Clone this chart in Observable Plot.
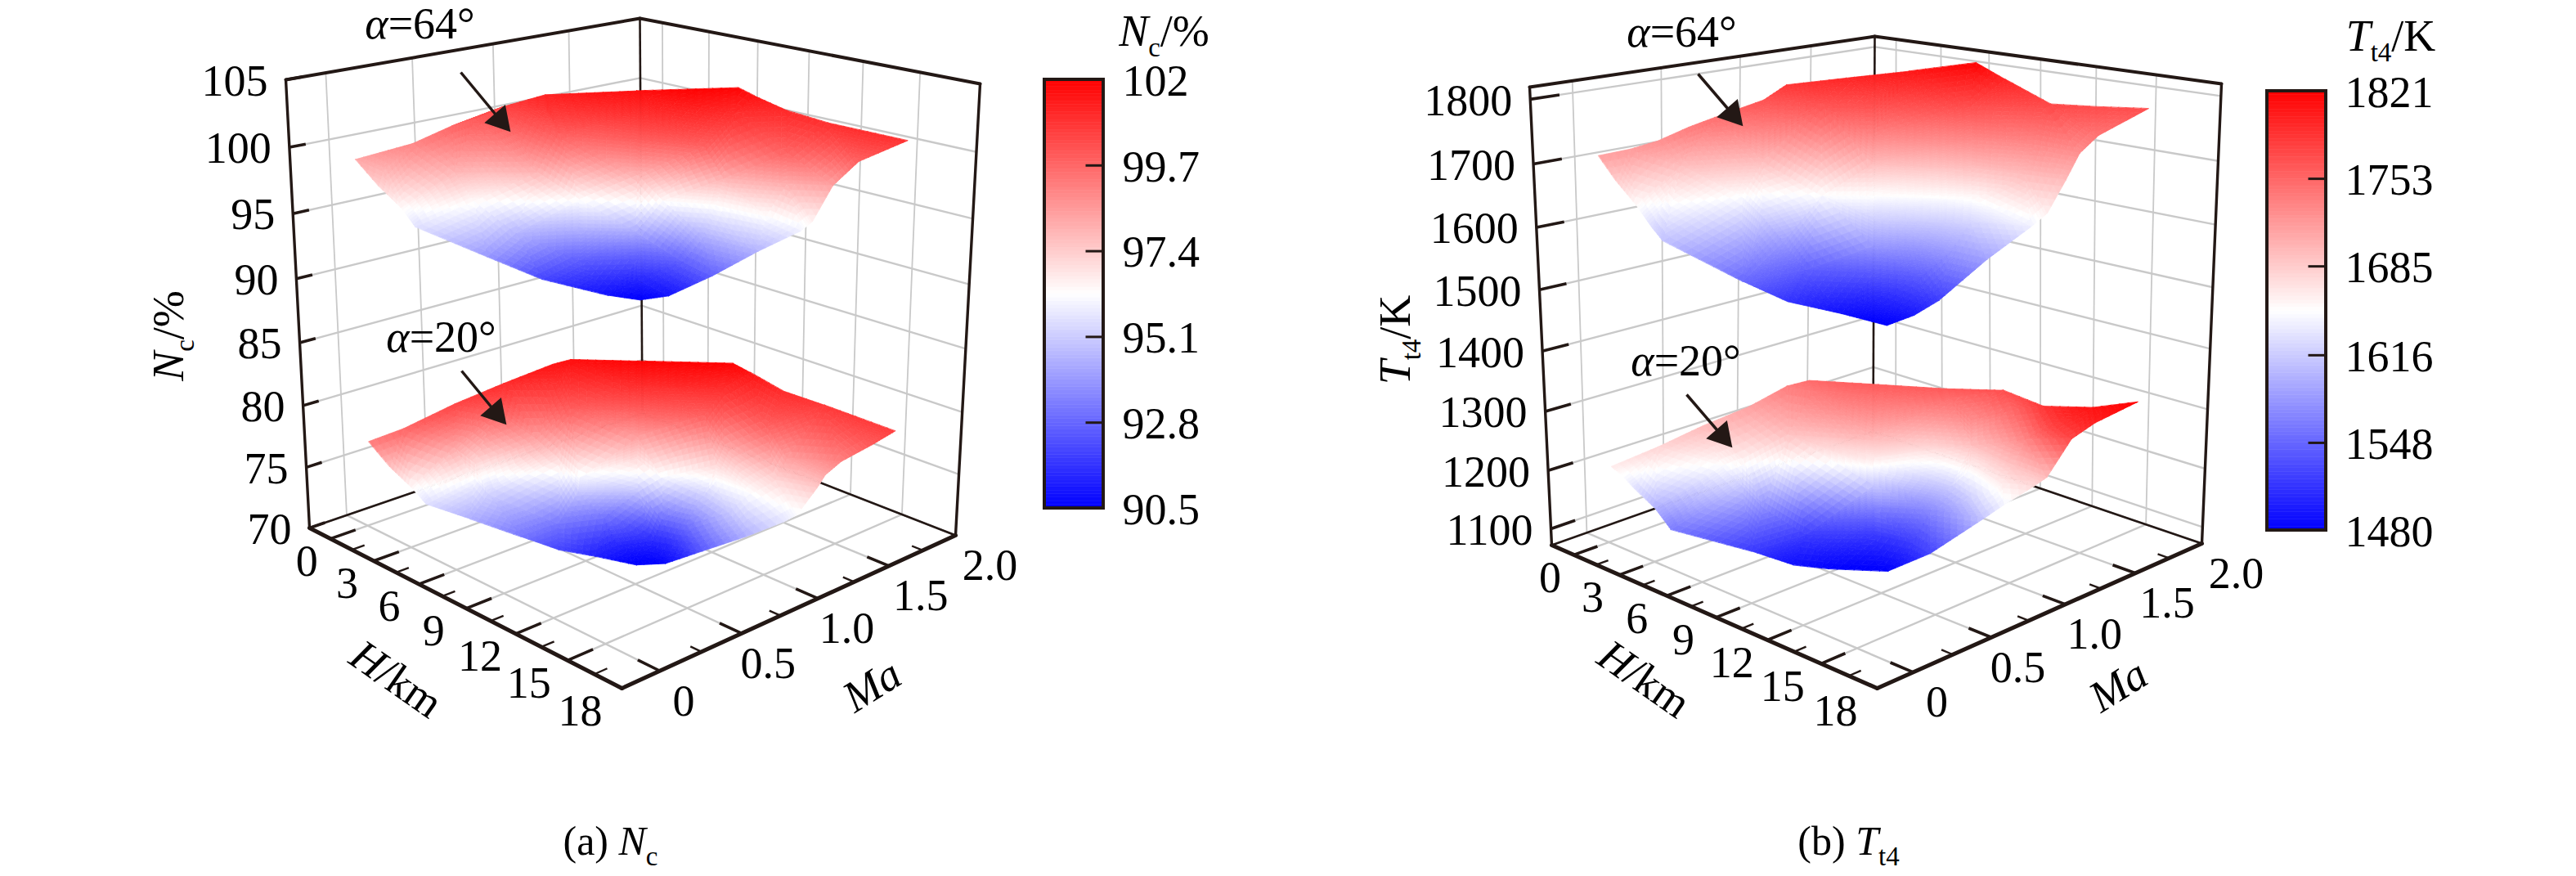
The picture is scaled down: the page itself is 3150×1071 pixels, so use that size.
<!DOCTYPE html>
<html><head><meta charset="utf-8">
<script src="https://cdn.jsdelivr.net/npm/d3@7"></script>
<script src="https://cdn.jsdelivr.net/npm/@observablehq/plot@0.6"></script>
<style>html,body{margin:0;padding:0;background:#fff;overflow:hidden}#wrap{display:flex;width:3150px;height:1071px}svg{display:block}</style>
</head><body><div id="wrap"></div>
<script>
// Axis ticks
const hTicks=[0,3,6,9,12,15,18], maTicks=[0,0.5,1,1.5,2];
const ncTicks=[70,75,80,85,90,95,100,105], t4Ticks=[1100,1200,1300,1400,1500,1600,1700,1800];
const ncBarTicks=[102,99.7,97.4,95.1,92.8,90.5], t4BarTicks=[1821,1753,1685,1616,1548,1480];
// Surface readings: outline as [H, Ma, value]; inner iso-value rows as [value, [[H, Ma], ...]]
const nc64Outline=[[-1.3,.13,98.2],[-.4,.39,99],[-.5,.64,99.7],[-.3,.94,100.5],[.3,1.16,101.1],[3.4,1.45,101.6],[6.7,1.78,102],[7.4,1.81,101.5],[9.5,1.79,101],[12,1.76,100.9],[16.2,1.76,100.9],[15.8,1.48,100],[15.1,1.4,98.2],[15.8,1.18,96.5],[15.6,1.13,95.9],[14.7,.97,94.6],[13.5,.82,92.8],[11.8,.74,90.9],[10.9,.66,90.5],[10.1,.55,90.9],[8.2,.35,92],[7.2,.13,94],[4.4,-.02,95.6],[2.8,.04,96.25],[1.1,.06,97.2]];
const nc64Rows=[[101,[[1.9,1],[5.3,1.25],[8.2,1.59]]],[100,[[-.3,.76],[4.1,.87],[7.2,1.05],[9.9,1.18],[13,1.36]]],[98,[[.8,.11],[2.8,.35],[5.1,.63],[8.3,.93],[11.1,1.17],[13.4,1.31]]],[96.25,[[4,.35],[6.8,.72],[9.3,.98],[11.2,1.11],[13.7,1.14]]],[94.5,[[6.2,.39],[7.7,.63],[9.4,.8],[11.8,.96]]],[92.5,[[8,.59],[9.5,.8],[11,.92]]],[91.3,[[9.8,.76]]]];
const nc20Outline=[[1.7,-.11,99.3],[2.1,.06,99.8],[2,.38,100.4],[2.2,.67,101],[2.4,.97,101.5],[2.6,1.07,101.6],[5.1,1.26,101.9],[8.3,1.57,102],[9.1,1.6,101.5],[11.1,1.59,101],[13.2,1.63,100.7],[17.1,1.63,100.6],[16.9,1.49,100],[16.5,1.33,99.2],[16.2,1.26,98.3],[16,1.23,97.3],[16.3,1.06,96.2],[15.9,1.02,95.6],[14.9,.89,94.5],[13.2,.8,92.8],[11.2,.78,90.7],[10.3,.69,90.5],[9.2,.54,91.3],[8.4,.39,92.1],[7.5,.25,93.3],[5.9,.1,94.5],[4.6,-.04,95.6],[3.4,-.02,96.2],[2.6,-.07,97.6]];
const nc20Rows=[[101,[[3.8,.86],[6.3,1.13],[9.1,1.42]]],[100,[[3.4,.5],[5.3,.79],[7.4,1.01],[9.8,1.2],[12.6,1.3]]],[98.4,[[3.6,.22],[5.3,.57],[8,.95],[11.2,1.18],[14,1.27]]],[97,[[4.1,.3],[6.1,.63],[8.4,.9],[11.2,1.12],[14,1.19]]],[96.25,[[4.6,.25],[7.5,.62],[9.9,.9],[11.7,1.06],[13.6,1.07]]],[95,[[4.9,.3],[7.3,.63],[9.1,.83],[11.3,1.02],[13.2,.97]]],[93,[[7.3,.5],[8.2,.7],[10,.89],[11.1,.93]]],[91.2,[[9,.7],[9.7,.86],[10.6,.9]]]];
const t464Outline=[[.5,-.02,1714],[.8,.13,1718],[1,.27,1725],[1,.45,1738],[1.2,.59,1748],[1.5,.87,1765],[1.7,1,1785],[3.5,1.22,1795],[5.4,1.45,1805],[7.8,1.65,1821],[8.8,1.74,1795],[12,1.63,1775],[13.3,1.79,1770],[15.1,1.92,1770],[14.9,1.55,1745],[14.9,1.41,1725],[15.3,1.25,1695],[15.8,1.05,1660],[15.4,1,1640],[14.2,.88,1590],[12.5,.79,1520],[11.7,.73,1495],[11,.64,1480],[9.2,.56,1490],[8.1,.35,1515],[7.1,.19,1550],[4.7,-.03,1610],[3.9,-.02,1625],[2.7,0,1650],[1.9,-.04,1685]];
const t464Rows=[[1770,[[4.3,.96],[6.1,1.11],[9.5,1.38],[11.9,1.59]]],[1730,[[3.5,.67],[7.3,.98],[10.6,1.24],[13,1.36]]],[1695,[[2.5,.27],[4.3,.59],[7.9,.9],[11.3,1.15],[13.6,1.21]]],[1650,[[4.6,.43],[6.8,.7],[8.3,.87],[11.6,1.12]]],[1620,[[5.2,.49],[8.8,.81],[12,1.06]]],[1585,[[6.3,.51],[9.3,.75],[12.1,.92]]],[1540,[[6.9,.58],[9.2,.76],[11,.86]]],[1500,[[9.4,.74]]]];
const t420Outline=[[3.7,-.29,1665],[4.1,-.05,1680],[4.3,.2,1695],[4.7,.45,1710],[5.3,.63,1735],[6,.7,1745],[9.3,.79,1760],[11.9,.93,1765],[13.9,1.06,1770],[17,.91,1785],[19.1,.94,1800],[20.8,.98,1821],[20.2,.79,1800],[19.6,.73,1775],[17.9,.83,1690],[17.3,.83,1670],[16.9,.69,1650],[16,.68,1620],[13.1,.69,1530],[11,.66,1480],[9.3,.46,1485],[8.2,.35,1490],[7.3,.18,1520],[5.2,-.1,1560],[5,-.17,1600],[4.1,-.2,1625],[3.9,-.25,1650]];
const t420Rows=[[1790,[[18.9,.71]]],[1810,[[20.2,.79]]],[1745,[[7.1,.61],[9.3,.75],[11.8,.97],[14.5,1.05]]],[1730,[[10,.68],[13.4,.91],[16.4,.88]]],[1695,[[7.5,.4],[10.4,.62],[13.7,.88],[16.3,.82]]],[1665,[[6.7,.2],[10.5,.62],[13.7,.88],[16,.79]]],[1650,[[6,.14],[10.5,.61],[13.5,.88],[15.5,.81]]],[1615,[[6.4,.22],[10.2,.65],[12.5,.9],[14.1,.84]]],[1570,[[6.6,.33],[9.8,.7],[11.7,.86]]],[1515,[[7.4,.52],[9.4,.75],[11.2,.8]]]];

const ink="#231815", gridC="#c9c9c9", tickFont=54;
function squareToQuad(q){const [[x0,y0],[x1,y1],[x2,y2],[x3,y3]]=q;
 const dx1=x1-x2,dx2=x3-x2,sx=x0-x1+x2-x3,dy1=y1-y2,dy2=y3-y2,sy=y0-y1+y2-y3,det=dx1*dy2-dx2*dy1;
 const g=(sx*dy2-dx2*sy)/det,h=(dx1*sy-sx*dy1)/det;
 const a=x1-x0+g*x1,b=x3-x0+h*x3,d=y1-y0+g*y1,e=y3-y0+h*y3;
 return (u,v)=>{const w=g*u+h*v+1;return [(a*u+b*v+x0)/w,(d*u+e*v+y0)/w];};}
const Hd=[-1.5,18],Md=[-0.22,2];
const cfg=[
{x0:0,floor:[[378,645],[760,841],[1168,654],[785,505]],top:[[349,97],[752,208],[1198,102],[782,22]],zd:[70,105],zTicks:ncTicks,k:.065,dom:[90.5,102],off:[0,-21],
 surfaces:[[nc64Outline,nc64Rows],[nc20Outline,nc20Rows]],
 bar:[1277,1349,97,621],barTicks:ncBarTicks,barLx:1372,zt:.09,
 title:"Nc/%",tx:1423,ty:38,yl:"Nc/%",ylx:206,yly:410,cap:"(a) Nc",capx:746,caps:1028,hl:[484,830],ml:[1066,838],al:[[513,29,"α=64°"],[539,412,"α=20°"]],arrows:[[563,88,611,146],[564,453,606,504]]},
{x0:1575,floor:[[1897,666],[2295,841],[2692,664],[2290,527]],top:[[1870,106],[2300,210],[2716,102],[2292,44]],zd:[1071.5,1818.6],zTicks:t4Ticks,k:.068,dom:[1480,1821],off:[0,-400],
 surfaces:[[t464Outline,t464Rows],[t420Outline,t420Rows]],
 bar:[2772,2844,111,648],barTicks:t4BarTicks,barLx:2867,zt:.15,
 title:"Tt4/K",tx:2923,ty:44,yl:"Tt4/K",ylx:1706,yly:415,cap:"(b) Tt4",capx:2260,caps:1028,hl:[2010,830],ml:[2590,838],al:[[2056,39,"α=64°"],[2061,441,"α=20°"]],arrows:[[2076,90,2118,139],[2062,482,2105,532]]}];

function makeProj(c){const F=squareToQuad(c.floor),T=squareToQuad(c.top);
 return (H,M,z)=>{const u=(H-Hd[0])/(Hd[1]-Hd[0]),v=(M-Md[0])/(Md[1]-Md[0]),t=(z-c.zd[0])/(c.zd[1]-c.zd[0]),s=t/(1+c.k*(1-t));
  const a=F(u,v),b=T(u,v);return [a[0]+(b[0]-a[0])*s,a[1]+(b[1]-a[1])*s];};}
function build(ci){const c=cfg[ci],P=makeProj(c),tris=[];
 c.surfaces.forEach(([o,r],si)=>{const out=o.map(([H,Ma,v])=>({H,Ma,c:v}));
  const inn=r.flatMap(([v,pts])=>pts.map(([H,Ma])=>({H,Ma,c:v})));
  tris.push(...mesh(out,inn,c.off[si],P));});
 return tris;}
// smooth value field through the readings, used only to shade the facets between them
function smoothField(pts,vals,lam){const n=pts.length,m=n+3,sc=100,phi=r2=>r2>0?r2*Math.log(r2)/2:0;
 const q=pts.map(p=>[p[0]/sc,p[1]/sc]),A=[];
 for(let i=0;i<m;i++){A.push(new Float64Array(m+1));}
 for(let i=0;i<n;i++){for(let j=0;j<n;j++){const dx=q[i][0]-q[j][0],dy=q[i][1]-q[j][1];A[i][j]=phi(dx*dx+dy*dy)+(i===j?lam:0);}
  A[i][n]=1;A[i][n+1]=q[i][0];A[i][n+2]=q[i][1];A[n][i]=1;A[n+1][i]=q[i][0];A[n+2][i]=q[i][1];A[i][m]=vals[i];}
 for(let c=0;c<m;c++){let b=c;for(let r=c+1;r<m;r++)if(Math.abs(A[r][c])>Math.abs(A[b][c]))b=r;[A[c],A[b]]=[A[b],A[c]];
  for(let r=0;r<m;r++){if(r===c)continue;const f=A[r][c]/A[c][c];if(!f)continue;for(let k=c;k<=m;k++)A[r][k]-=f*A[c][k];}}
 const w=A.map((row,i)=>row[m]/row[i]);
 return (x,y)=>{x/=sc;y/=sc;let s=w[n]+w[n+1]*x+w[n+2]*y;for(let i=0;i<n;i++){const dx=x-q[i][0],dy=y-q[i][1];s+=w[i]*phi(dx*dx+dy*dy);}return s;};}
function mesh(out,inn,off,P){const pr=d=>P(d.H,d.Ma,d.c+off);const poly=out.map(pr);
 const keep=inn.filter(d=>d3.polygonContains(poly,pr(d)));const all=[...out,...keep],pts=all.map(pr);
 const field=smoothField(pts,all.map(d=>d.c),.25);
 const del=d3.Delaunay.from(pts),res=[],t=del.triangles;
 for(let i=0;i<t.length;i+=3){const p=[pts[t[i]],pts[t[i+1]],pts[t[i+2]]];
  const cen=[(p[0][0]+p[1][0]+p[2][0])/3,(p[0][1]+p[1][1]+p[2][1])/3];if(!d3.polygonContains(poly,cen))continue;
  const edge=Math.max(...[0,1,2].map(k=>Math.hypot(p[k][0]-p[(k+1)%3][0],p[k][1]-p[(k+1)%3][1])));
  const N=Math.min(40,Math.max(1,Math.ceil(edge/11)));
  const at=(a,b)=>{const w=N-a-b;return [(p[0][0]*a+p[1][0]*b+p[2][0]*w)/N,(p[0][1]*a+p[1][1]*b+p[2][1]*w)/N];};
  const add=(A,B,C)=>res.push({geom:{type:"Polygon",coordinates:[[A,B,C,A]]},c:field((A[0]+B[0]+C[0])/3,(A[1]+B[1]+C[1])/3)});
  for(let a=0;a<N;a++)for(let b=0;b<N-a;b++){add(at(a,b),at(a+1,b),at(a,b+1));if(a+b<N-1)add(at(a+1,b),at(a+1,b+1),at(a,b+1));}}
 return res;}

const seg=(P,a,b)=>{const p=P(...a),q=P(...b);return {x1:p[0],y1:p[1],x2:q[0],y2:q[1]};};
const L={x1:"x1",y1:"y1",x2:"x2",y2:"y2"};
function chart(ci){const c=cfg[ci],P=makeProj(c),[z0,z1]=c.zd,[Ha,Hb]=Hd,[Ma,Mb]=Md;
 const grid=[],wallV=[];
 for(const z of c.zTicks){grid.push(seg(P,[Ha,Ma,z],[Ha,Mb,z]),seg(P,[Ha,Mb,z],[Hb,Mb,z]));}
 for(const H of hTicks.slice(0,6)){wallV.push(seg(P,[H,Mb,z0],[H,Mb,z1]));}
 for(const M of maTicks.slice(0,4)){wallV.push(seg(P,[Ha,M,z0],[Ha,M,z1]));}
 for(const H of hTicks)grid.push(seg(P,[H,Ma,z0],[H,Mb,z0]));
 for(const M of maTicks)grid.push(seg(P,[Ha,M,z0],[Hb,M,z0]));
 const thick=[seg(P,[Ha,Ma,z0],[Hb,Ma,z0]),seg(P,[Hb,Ma,z0],[Hb,Mb,z0])];
 const top=[seg(P,[Ha,Ma,z1],[Ha,Mb,z1]),seg(P,[Ha,Mb,z1],[Hb,Mb,z1])];
 const edges=[seg(P,[Ha,Ma,z0],[Ha,Ma,z1]),seg(P,[Hb,Mb,z0],[Hb,Mb,z1])];
 const back=[seg(P,[Ha,Mb,z0],[Ha,Mb,z1]),seg(P,[Ha,Ma,z0],[Ha,Mb,z0]),seg(P,[Ha,Mb,z0],[Hb,Mb,z0])];
 const tickMaj=[],tickMin=[],dM=.147,dH=1.2;
 hTicks.slice(0,6).forEach(H=>{tickMaj.push(seg(P,[H,Ma,z0],[H,Ma+dM,z0]));tickMin.push(seg(P,[H+1.5,Ma,z0],[H+1.5,Ma+dM/2,z0]));});
 maTicks.slice(0,4).forEach(M=>{tickMaj.push(seg(P,[Hb,M,z0],[Hb-dH,M,z0]));tickMin.push(seg(P,[Hb,M+.25,z0],[Hb-dH/2,M+.25,z0]));});
 c.zTicks.forEach(z=>tickMaj.push(seg(P,[Ha,Ma,z],[Ha,Ma+c.zt,z])));
 const labels=[];
 c.zTicks.forEach(z=>{const p=P(Ha,Ma,z);labels.push({x:p[0]-22,y:p[1]+2,t:String(z),a:"end"});});
 hTicks.forEach(H=>{const p=P(H,Ma,z0);labels.push({x:p[0]-29-H/18*22,y:p[1]+28,t:String(H),a:"middle"});});
 maTicks.forEach(M=>{const p=P(Hb,M,z0);labels.push({x:p[0]+29+M*6.5,y:p[1]+37,t:M===0?"0":M.toFixed(1),a:"middle"});});
 const [bx1,bx2,by1,by2]=c.bar,cy=v=>by2-(v-c.dom[0])/(c.dom[1]-c.dom[0])*(by2-by1);
 const strips=d3.range(120).map(i=>{const a=c.dom[0]+(c.dom[1]-c.dom[0])*i/120,b=c.dom[0]+(c.dom[1]-c.dom[0])*(i+1)/120;return {y1:cy(a),y2:cy(b),c:(a+b)/2};});
 const mid=(c.dom[0]+c.dom[1])/2;
 const plot=Plot.plot({width:1575,height:1071,margin:0,
  x:{domain:[c.x0,c.x0+1575],axis:null},y:{domain:[1071,0],axis:null},
  color:{type:"linear",domain:[c.dom[0],mid,c.dom[1]],range:["#0000ff","#ffffff","#ff0000"],clamp:true},
  style:{fontFamily:"Liberation Serif",background:"#fff",color:"#000"},
  marks:[
   Plot.link(wallV,{...L,stroke:gridC,strokeWidth:1.8}),
   Plot.link(grid,{...L,stroke:gridC,strokeWidth:2.4}),
   Plot.link(back,{...L,stroke:ink,strokeWidth:2.6}),
   Plot.link(top,{...L,stroke:ink,strokeWidth:4,strokeLinecap:"round"}),
   Plot.link(edges,{...L,stroke:ink,strokeWidth:3.4,strokeLinecap:"round"}),
   Plot.link(thick,{...L,stroke:ink,strokeWidth:5,strokeLinecap:"round"}),
   Plot.link(tickMaj,{...L,stroke:ink,strokeWidth:3.6}),
   Plot.link(tickMin,{...L,stroke:ink,strokeWidth:2.4}),
   Plot.geo(build(ci),{geometry:d=>d.geom,fill:"c",stroke:"c",strokeWidth:.8}),
   Plot.rect(strips,{x1:()=>bx1,x2:()=>bx2,y1:"y1",y2:"y2",fill:"c",stroke:"c",strokeWidth:.5}),
   Plot.rect([0],{x1:()=>bx1,x2:()=>bx2,y1:()=>by1,y2:()=>by2,fill:"none",stroke:ink,strokeWidth:4}),
   Plot.link(c.barTicks.slice(1,5),{x1:()=>bx2-22,x2:()=>bx2,y1:cy,y2:cy,stroke:ink,strokeWidth:3}),
   Plot.text(labels,{x:"x",y:"y",text:"t",textAnchor:"end",filter:d=>d.a==="end",fontSize:tickFont}),
   Plot.text(labels,{x:"x",y:"y",text:"t",textAnchor:"middle",filter:d=>d.a==="middle",fontSize:tickFont}),
   Plot.text(c.barTicks,{x:()=>c.barLx,y:d=>cy(d)+2,text:d=>String(d),textAnchor:"start",fontSize:tickFont}),
   Plot.text([c.title],{x:()=>c.tx,y:()=>c.ty,text:d=>d,fontSize:tickFont}),
   Plot.text([c.yl],{x:()=>c.ylx,y:()=>c.yly,text:d=>d,fontSize:tickFont,rotate:-90}),
   Plot.text([c.cap],{x:()=>c.capx,y:()=>c.caps,text:d=>d,fontSize:50}),
   Plot.text(["H/km"],{x:()=>c.hl[0],y:()=>c.hl[1],text:d=>d,fontSize:tickFont,rotate:35}),
   Plot.text(["Ma"],{x:()=>c.ml[0],y:()=>c.ml[1],text:d=>d,fontSize:tickFont,fontStyle:"italic",rotate:-32}),
   Plot.text(c.al,{x:d=>d[0],y:d=>d[1],text:d=>d[2],fontSize:tickFont}),
   Plot.link(c.arrows,{x1:d=>d[0],y1:d=>d[1],x2:d=>d[2],y2:d=>d[3],stroke:ink,strokeWidth:3.5}),
   Plot.dot(c.arrows,{x:d=>d[2],y:d=>d[3],symbol:"triangle",r:12.6,fill:ink,stroke:"none",rotate:139})
  ]});
 rich(plot);return plot;}
const runs={"Nc/%":[["N","i"],["c","s"],["/%",""]],"Tt4/K":[["T","i"],["t4","s"],["/K",""]],"(a) Nc":[["(a) ",""],["N","i"],["c","s"]],"(b) Tt4":[["(b) ",""],["T","i"],["t4","s"]],"α=64°":[["α","i"],["=64°",""]],"α=20°":[["α","i"],["=20°",""]],"H/km":[["H","i"],["/km",""]]};
function rich(svg){svg.querySelectorAll("text").forEach(el=>{const r=runs[el.textContent];if(!r)return;el.textContent="";let shift=0;
 r.forEach(([t,k])=>{const s=document.createElementNS("http://www.w3.org/2000/svg","tspan");s.textContent=t;
  if(k==="i")s.setAttribute("font-style","italic");
  let d=0;if(k==="s"){s.setAttribute("font-size","33");d=13-shift;shift=13;}else{d=-shift;shift=0;}
  if(d)s.setAttribute("dy",d);el.appendChild(s);});});}
document.getElementById("wrap").append(chart(0),chart(1));
</script></body></html>
